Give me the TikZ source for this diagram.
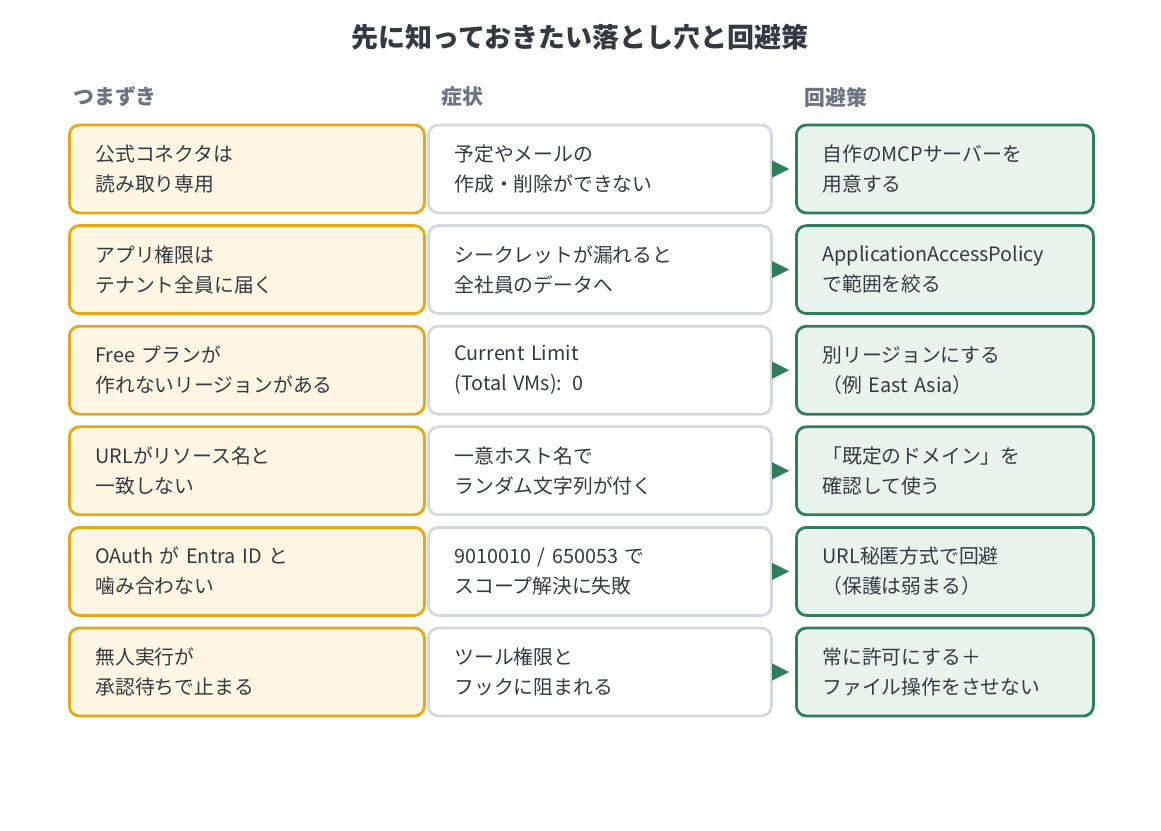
\documentclass[tikz,border=0pt]{standalone}
\usepackage{fontspec}
\setmainfont{Noto Sans CJK JP}
\usetikzlibrary{arrows.meta}
\definecolor{txt}{HTML}{333A42}
\definecolor{head}{HTML}{6B7480}
\definecolor{warnfill}{HTML}{FFF6E3}
\definecolor{warnline}{HTML}{E6A817}
\definecolor{greyline}{HTML}{D5D9DE}
\definecolor{okfill}{HTML}{E8F4EC}
\definecolor{okline}{HTML}{2E7D5B}
\begin{document}
\begin{tikzpicture}[x=1pt,y=-1pt,
  box/.style={rectangle,rounded corners=10pt,line width=2.8pt,minimum height=88pt,
    anchor=west,align=left,inner xsep=26pt,text=txt,
    font=\fontsize{19.8}{30}\selectfont},
  trap/.style={box,fill=warnfill,draw=warnline,minimum width=355pt,text width=303pt},
  sign/.style={box,fill=white,draw=greyline,minimum width=343pt,text width=291pt},
  fix/.style={box,fill=okfill,draw=okline,minimum width=297pt,text width=245pt},
  hd/.style={anchor=west,text=head,font=\bfseries\fontsize{20.8}{24}\selectfont},
  tip/.style={-{Triangle[length=17pt,width=17pt]},okline,line width=0.1pt,shorten >=6pt}]
\useasboundingbox (0,0) rectangle (1161,830);
\node[font=\bfseries\fontsize{27}{30}\selectfont,text=txt] (title) at (580,37) {先に知っておきたい落とし穴と回避策};
\node[hd] (h1) at (70,97) {つまずき};
\node[hd] (h2) at (438,97) {症状};
\node[hd] (h3) at (801,97) {回避策};
\foreach \i/\a/\b/\c in {
  1/{公式コネクタは\\読み取り専用}/{予定やメールの\\作成・削除ができない}/{自作のMCPサーバーを\\用意する},
  2/{アプリ権限は\\テナント全員に届く}/{シークレットが漏れると\\全社員のデータへ}/{ApplicationAccessPolicy\\で範囲を絞る},
  3/{Free プランが\\作れないリージョンがある}/{Current Limit\\(Total VMs): 0}/{別リージョンにする\\（例 East Asia）},
  4/{URLがリソース名と\\一致しない}/{一意ホスト名で\\ランダム文字列が付く}/{「既定のドメイン」を\\確認して使う},
  5/{OAuth が Entra ID と\\噛み合わない}/{9010010 / 650053 で\\スコープ解決に失敗}/{URL秘匿方式で回避\\（保護は弱まる）},
  6/{無人実行が\\承認待ちで止まる}/{ツール権限と\\フックに阻まれる}/{常に許可にする＋\\ファイル操作をさせない}}{
  \pgfmathsetmacro{\y}{169+100.6*(\i-1)}
  \node[trap] (t\i) at (68,\y) {\a};
  \node[sign] (s\i) at (427,\y) {\b};
  \node[fix] (f\i) at (795,\y) {\c};
  \draw[tip] (s\i.east) -- (f\i.west);
}
\end{tikzpicture}
\end{document}
